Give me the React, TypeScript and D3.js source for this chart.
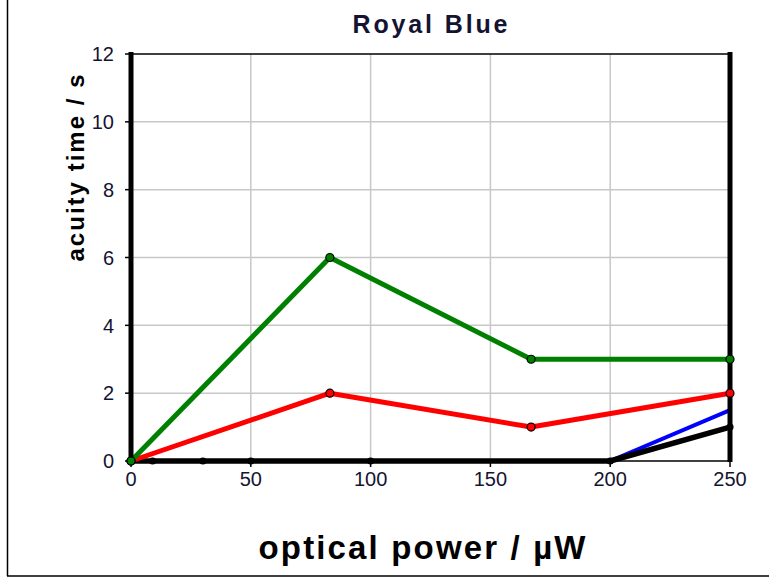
import React from "react";
import * as d3 from "d3";

const xTicks = [0, 50, 100, 150, 200, 250];
const yTicks = [0, 2, 4, 6, 8, 10, 12];
const greenX = [0, 83, 167, 250];
const greenY = [0, 6, 3, 3];
const redX = [0, 83, 167, 250];
const redY = [0, 2, 1, 2];
const blueX = [0, 9, 30, 50, 100, 200, 250];
const blueY = [0, 0, 0, 0, 0, 0, 1.5];
const blackX = [0, 9, 30, 50, 100, 200, 250];
const blackY = [0, 0, 0, 0, 0, 0, 1];

const W = 769, H = 581;
const L = 131, R = 730, T = 54, B = 461;

export default function App() {
  const x = d3.scaleLinear().domain([0, 250]).range([L, R]);
  const y = d3.scaleLinear().domain([0, 12]).range([B, T]);
  const line = d3.line<[number, number]>().x(d => x(d[0])).y(d => y(d[1]));
  const series = [
    { xs: blueX, ys: blueY, color: "#0000ff", markers: false, w: 4 },
    { xs: blackX, ys: blackY, color: "#000000", markers: true, w: 5.5 },
    { xs: redX, ys: redY, color: "#ff0000", markers: true, w: 5 },
    { xs: greenX, ys: greenY, color: "#008000", markers: true, w: 5 },
  ];
  return (
    <svg width={W} height={H} style={{ position: "absolute", left: 0, top: 0, background: "#fff" }}
      fontFamily="Arial, 'Liberation Sans', sans-serif">
      <rect x={0} y={0} width={W} height={H} fill="#fff" />
      <line x1={7.5} y1={0} x2={7.5} y2={576} stroke="#000" strokeWidth={1.5} />
      <line x1={7} y1={576} x2={W} y2={576} stroke="#000" strokeWidth={1.5} />
      {xTicks.slice(1, -1).map(t => (
        <line key={"gx" + t} x1={x(t)} x2={x(t)} y1={T} y2={B} stroke="#c8c8c8" strokeWidth={1.5} />
      ))}
      {yTicks.slice(1, -1).map(t => (
        <line key={"gy" + t} x1={L} x2={R} y1={y(t)} y2={y(t)} stroke="#c8c8c8" strokeWidth={1.5} />
      ))}
      <line x1={L} x2={R} y1={T} y2={T} stroke="#000" strokeWidth={1.5} />
      <line x1={L} x2={R} y1={B} y2={B} stroke="#000" strokeWidth={1.5} />
      {yTicks.map(t => (
        <g key={"yt" + t}>
          <line x1={L - 6} x2={L} y1={y(t)} y2={y(t)} stroke="#000" strokeWidth={1.5} />
          <text x={114} y={y(t)} dy="0.36em" textAnchor="end" fontSize={20} fill="#141432">{t}</text>
        </g>
      ))}
      {xTicks.map(t => (
        <g key={"xt" + t}>
          <line x1={x(t)} x2={x(t)} y1={B} y2={B + 6} stroke="#000" strokeWidth={1.5} />
          <text x={x(t)} y={B + 25} textAnchor="middle" fontSize={20} fill="#141432">{t}</text>
        </g>
      ))}
      {series.map((s, i) => (
        <path key={"s" + i} d={line(s.xs.map((v, j) => [v, s.ys[j]] as [number, number])) || ""}
          fill="none" stroke={s.color} strokeWidth={s.w} strokeLinejoin="round" />
      ))}
      <line x1={L} x2={L} y1={T - 2} y2={B + 1} stroke="#000" strokeWidth={5} />
      <line x1={R} x2={R} y1={T - 2} y2={B + 1} stroke="#000" strokeWidth={5} />
      {series.filter(s => s.markers).map((s, i) => s.xs.map((v, j) => (
        <circle key={"m" + i + "-" + j} cx={x(v)} cy={y(s.ys[j])} r={s.color === "#000000" ? 3 : 4}
          fill={s.color} stroke="#000" strokeWidth={1.2} />
      )))}
      <text x={430} y={33} textAnchor="middle" fontSize={25} fontWeight="bold" fill="#141432"
        textLength={155} lengthAdjust="spacing">Royal Blue</text>
      <text x={422} y={559} textAnchor="middle" fontSize={33} fontWeight="bold" fill="#000"
        textLength={327} lengthAdjust="spacing">optical power / µW</text>
      <text transform={`translate(84,168) rotate(-90)`} textAnchor="middle" fontSize={24} fontWeight="bold"
        fill="#000" textLength={187} lengthAdjust="spacing">acuity time / s</text>
    </svg>
  );
}
